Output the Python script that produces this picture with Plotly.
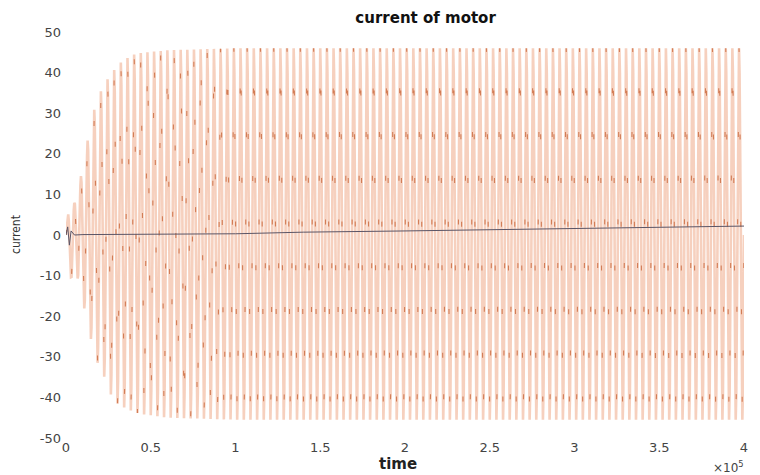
import numpy as np
import plotly.graph_objects as go

# ---- data (time in units of 1e5) ----
env_t_upper = [0.0, 0.02, 0.035, 0.06, 0.10, 0.14, 0.18, 0.23, 0.27, 0.30, 0.34, 0.39, 0.43, 0.60, 1.0, 4.0]
env_upper   = [0.0, 9.0, 4.0, 11.0, 16.0, 26.6, 33.0, 37.6, 39.6, 41.8, 43.0, 44.3, 44.8, 45.5, 46.0, 46.0]
env_t_lower = [0.0, 0.02, 0.035, 0.06, 0.10, 0.125, 0.16, 0.20, 0.24, 0.27, 0.31, 0.37, 0.43, 0.60, 1.0, 4.0]
env_lower   = [0.0, -6.0, -13.0, -9.0, -17.0, -20.5, -28.6, -33.0, -36.0, -40.0, -41.8, -43.0, -44.0, -45.0, -45.5, -45.5]
cycles_total = 102          # oscillation cycles counted across 0..4 (x1e5)
samples_per_cycle = 12

base_t = [0.0, 0.01, 0.02, 0.03, 0.05, 0.1, 1.0, 1.4, 2.0, 3.0, 4.0]
base_v = [0.0, 2.0, -2.5, 1.0, 0.0, 0.1, 0.3, 0.7, 1.0, 1.6, 2.2]

x_tick_vals = [0, 0.5, 1, 1.5, 2, 2.5, 3, 3.5, 4]
x_tick_text = ["0", "0.5", "1", "1.5", "2", "2.5", "3", "3.5", "4"]
y_tick_vals = [-50, -40, -30, -20, -10, 0, 10, 20, 30, 40, 50]
y_tick_text = ["-50", "-40", "-30", "-20", "-10", "0", "10", "20", "30", "40", "50"]

# ---- build the oscillating current from the read envelope ----
t = np.linspace(0, 4, cycles_total * samples_per_cycle + 1)
carrier = np.sin(2 * np.pi * cycles_total * t / 4.0)
up = np.interp(t, env_t_upper, env_upper)
lo = np.interp(t, env_t_lower, env_lower)
cur = np.where(carrier >= 0, carrier * up, -carrier * lo)

# dash period matched to one steady cycle's drawn length so dashes line up in rows
W, H = 760, 475
ML, MR, MT, MB = 66, 12, 32, 37
sx = (W - ML - MR) / 4.0
sy = (H - MT - MB) / 100.0
last = slice(len(t) - samples_per_cycle - 1, len(t))
seg = np.hypot(np.diff(t[last]) * sx, np.diff(cur[last]) * sy).sum()
period = seg / 8.5
dash = "%.3fpx,%.3fpx" % (5.0, period - 5.0)

fig = go.Figure()
fig.add_trace(go.Scatter(x=t, y=cur, mode="lines",
                         line=dict(color="rgba(236,150,110,0.45)", width=2.6),
                         hoverinfo="skip", showlegend=False))
fig.add_trace(go.Scatter(x=t, y=cur, mode="lines",
                         line=dict(color="rgba(190,80,30,0.65)", width=1.1, dash=dash),
                         hoverinfo="skip", showlegend=False))
fig.add_trace(go.Scatter(x=base_t, y=base_v, mode="lines",
                         line=dict(color="#5b5566", width=1),
                         showlegend=False))

tick_font = dict(family="DejaVu Sans", size=13, color="#444444")
fig.update_layout(
    width=W, height=H,
    margin=dict(l=ML, r=MR, t=MT, b=MB),
    paper_bgcolor="white", plot_bgcolor="white",
    title=dict(text="<b>current of motor</b>", x=0.56, xanchor="center",
               y=1 - 18 / 475, yanchor="middle",
               font=dict(family="DejaVu Sans", size=15, color="#111111")),
    xaxis=dict(range=[0, 4], tickvals=x_tick_vals, ticktext=x_tick_text,
               showgrid=False, zeroline=False, showline=False, ticks="",
               tickfont=tick_font),
    yaxis=dict(range=[-50, 50], tickvals=y_tick_vals, ticktext=y_tick_text,
               showgrid=False, zeroline=False, showline=False, ticks="",
               tickfont=tick_font, ticklabelstandoff=4),
    annotations=[
        dict(text="<b>time</b>", xref="paper", yref="paper", x=0.49, y=0,
             xanchor="center", yanchor="middle", yshift=-26, showarrow=False,
             font=dict(family="DejaVu Sans", size=15, color="#222222")),
        dict(text="current", xref="paper", yref="paper", x=0, y=0.5,
             xanchor="center", yanchor="middle", xshift=-50, textangle=-90,
             showarrow=False,
             font=dict(family="DejaVu Sans Condensed", size=12, color="#333333")),
        dict(text="×10<sup>5</sup>", xref="paper", yref="paper", x=1, y=0,
             xanchor="right", yanchor="middle", yshift=-29, xshift=2,
             showarrow=False,
             font=dict(family="DejaVu Sans", size=12, color="#444444")),
    ],
)

fig.write_html("out.html")
